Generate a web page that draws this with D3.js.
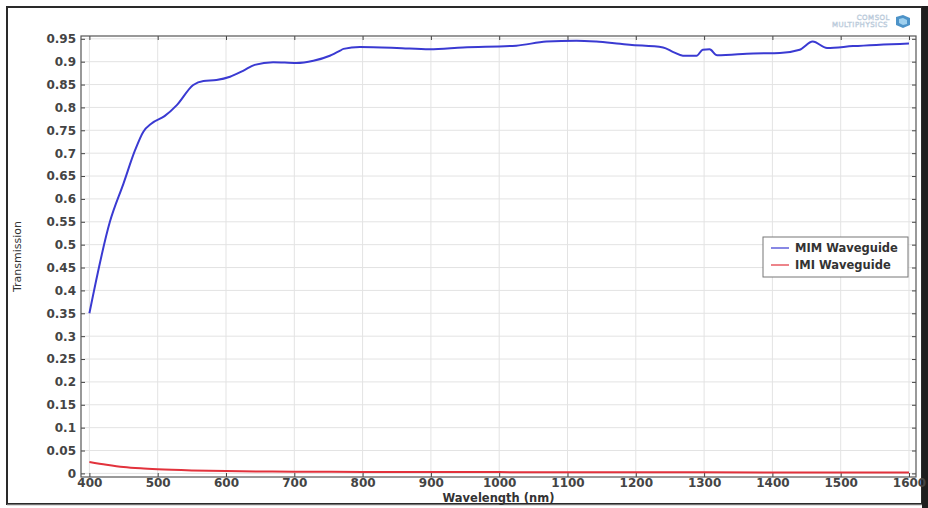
<!DOCTYPE html>
<html>
<head>
<meta charset="utf-8">
<script src="https://cdn.jsdelivr.net/npm/d3@7"></script>
<style>
  html, body { margin: 0; padding: 0; background: #fff; }
  svg { display: block; font-family: "DejaVu Sans", sans-serif; }
</style>
</head>
<body>
<svg id="chart" width="928" height="508"></svg>
<script>
// values
const wavelengthMIM = [400, 430, 450, 467, 479, 491, 510, 528, 552, 567, 586, 606, 625, 642, 669, 703, 728, 752, 767, 772, 796, 850, 898, 947, 1025, 1069, 1113, 1142, 1177, 1191, 1240, 1255, 1269, 1289, 1298, 1308, 1319, 1372, 1411, 1440, 1459, 1480, 1518, 1600];
const transmissionMIM = [0.350, 0.550, 0.634, 0.707, 0.747, 0.765, 0.781, 0.805, 0.849, 0.858, 0.860, 0.867, 0.880, 0.893, 0.899, 0.897, 0.902, 0.913, 0.924, 0.928, 0.932, 0.930, 0.927, 0.931, 0.935, 0.944, 0.946, 0.944, 0.939, 0.937, 0.931, 0.921, 0.913, 0.913, 0.926, 0.927, 0.914, 0.918, 0.919, 0.926, 0.944, 0.930, 0.934, 0.940];

const wavelengthIMI = [400, 425, 450, 475, 500, 550, 600, 700, 800, 1000, 1200, 1400, 1600];
const transmissionIMI = [0.025, 0.019, 0.014, 0.011, 0.009, 0.0065, 0.005, 0.0037, 0.0032, 0.0028, 0.0025, 0.0022, 0.002];

const xTicks = [400, 500, 600, 700, 800, 900, 1000, 1100, 1200, 1300, 1400, 1500, 1600];
const yTicks = [0, 0.05, 0.1, 0.15, 0.2, 0.25, 0.3, 0.35, 0.4, 0.45, 0.5, 0.55, 0.6, 0.65, 0.7, 0.75, 0.8, 0.85, 0.9, 0.95];

const seriesNames = ["MIM Waveguide", "IMI Waveguide"];
const seriesColors = ["#3a3ad2", "#e2323c"];

const svg = d3.select("#chart");
const box = {left: 81, right: 916, top: 36, bottom: 477};

const x = d3.scaleLinear().domain([400, 1600]).range([89.4, 909]);
const y = d3.scaleLinear().domain([0, 0.95]).range([473.4, 38.8]);

// outer frame of the exported figure
svg.append("rect")
    .attr("x", 7).attr("y", 7)
    .attr("width", 915).attr("height", 497)
    .attr("fill", "#fff")
    .attr("stroke", "#2a2a2a")
    .attr("stroke-width", 2);
svg.append("rect")
    .attr("x", 922).attr("y", 6)
    .attr("width", 6).attr("height", 502)
    .attr("fill", "#1e1e1e");
svg.append("line")
    .attr("x1", 7).attr("x2", 922)
    .attr("y1", 505).attr("y2", 505)
    .attr("stroke", "#bbb");

// logo
const logo = svg.append("g").attr("fill", "none").attr("stroke", "#b6c7d8").attr("stroke-width", 0.5)
    .style("font-size", "7px").style("letter-spacing", "0.5px");
logo.append("text").attr("x", 890).attr("y", 20).attr("text-anchor", "end").text("COMSOL");
logo.append("text").attr("x", 888).attr("y", 27).attr("text-anchor", "end").text("MULTIPHYSICS");
svg.append("path")
    .attr("d", "M896,17 L903,15 L910,18 L910,25 L903,28 L896,25 Z")
    .attr("fill", "#4d93c8");
svg.append("path")
    .attr("d", "M899,19 L903,18 L907,20 L907,24 L903,25 L899,23 Z")
    .attr("fill", "#9fd0ee");

// grid
const grid = svg.append("g").attr("stroke", "#e3e3e3").attr("stroke-width", 1);
grid.selectAll(".gx").data(xTicks).join("line")
    .attr("x1", d => x(d)).attr("x2", d => x(d))
    .attr("y1", box.top).attr("y2", box.bottom);
grid.selectAll(".gy").data(yTicks).join("line")
    .attr("x1", box.left).attr("x2", box.right)
    .attr("y1", d => y(d)).attr("y2", d => y(d));

// axes with inward ticks on all four sides
function styleAxis(g) {
    g.select(".domain").remove();
    g.selectAll(".tick line").attr("stroke", "#444");
    g.selectAll(".tick text")
        .attr("fill", "#444")
        .style("font-size", "12px")
        .style("font-weight", "bold")
        .style("font-family", "DejaVu Sans, sans-serif");
}

svg.append("g")
    .attr("transform", `translate(${box.left},0)`)
    .call(d3.axisLeft(y).tickValues(yTicks).tickSize(-4).tickPadding(5).tickFormat(d => String(d)))
    .call(styleAxis);
svg.append("g")
    .attr("transform", `translate(${box.right},0)`)
    .call(d3.axisRight(y).tickValues(yTicks).tickSize(-4).tickFormat(""))
    .call(styleAxis);
svg.append("g")
    .attr("transform", `translate(0,${box.bottom})`)
    .call(d3.axisBottom(x).tickValues(xTicks).tickSize(-4).tickPadding(2).tickFormat(d => String(d)))
    .call(styleAxis)
    .call(g => g.selectAll(".tick text").attr("dy", "0.68em"));
svg.append("g")
    .attr("transform", `translate(0,${box.top})`)
    .call(d3.axisTop(x).tickValues(xTicks).tickSize(-4).tickFormat(""))
    .call(styleAxis);

svg.append("rect")
    .attr("x", box.left).attr("y", box.top)
    .attr("width", box.right - box.left).attr("height", box.bottom - box.top)
    .attr("fill", "none")
    .attr("stroke", "#555")
    .attr("stroke-width", 1.2);

// lines
const line = d3.line()
    .x(d => x(d[0]))
    .y(d => y(d[1]))
    .curve(d3.curveMonotoneX);

const series = [
    d3.zip(wavelengthMIM, transmissionMIM),
    d3.zip(wavelengthIMI, transmissionIMI)
];

svg.append("g").selectAll("path")
    .data(series)
    .join("path")
    .attr("d", line)
    .attr("fill", "none")
    .attr("stroke", (d, i) => seriesColors[i])
    .attr("stroke-width", 2)
    .attr("stroke-linejoin", "round");

// axis titles
svg.append("text")
    .attr("x", (box.left + box.right) / 2)
    .attr("y", 502)
    .attr("text-anchor", "middle")
    .attr("fill", "#333")
    .style("font-size", "11.5px")
    .style("font-weight", "bold")
    .text("Wavelength (nm)");

svg.append("text")
    .attr("transform", `translate(21,${(box.top + box.bottom) / 2}) rotate(-90)`)
    .attr("text-anchor", "middle")
    .attr("fill", "#333")
    .style("font-size", "11px")
    .text("Transmission");

// legend
const legend = svg.append("g").attr("transform", "translate(763,237)");
legend.append("rect")
    .attr("width", 145).attr("height", 40)
    .attr("fill", "#fff")
    .attr("stroke", "#777");
const item = legend.selectAll(".item")
    .data(seriesNames)
    .join("g")
    .attr("transform", (d, i) => `translate(0,${11 + i * 17})`);
item.append("line")
    .attr("x1", 8).attr("x2", 26)
    .attr("stroke", (d, i) => seriesColors[i])
    .attr("stroke-width", 1.2);
item.append("text")
    .attr("x", 32)
    .attr("dy", "0.35em")
    .attr("fill", "#333")
    .style("font-size", "11.5px")
    .style("font-weight", "bold")
    .text(d => d);
</script>
</body>
</html>
